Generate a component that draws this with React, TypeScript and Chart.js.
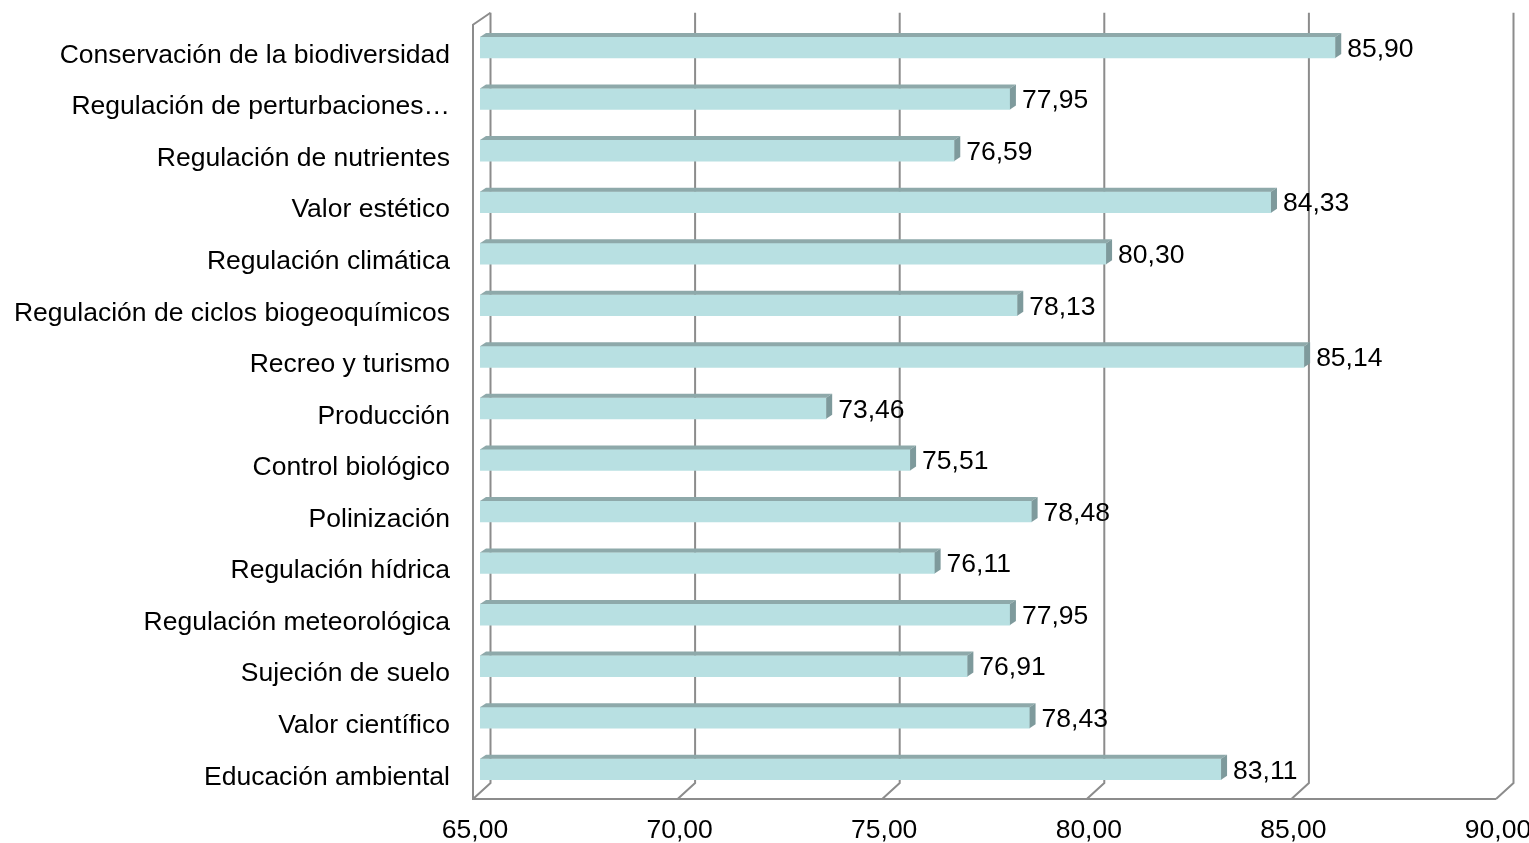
import React, { useEffect, useRef } from "react";
import { Chart, registerables } from "chart.js";

Chart.register(...registerables);

const categories = [
  "Conservación de la biodiversidad",
  "Regulación de perturbaciones…",
  "Regulación de nutrientes",
  "Valor estético",
  "Regulación climática",
  "Regulación de ciclos biogeoquímicos",
  "Recreo y turismo",
  "Producción",
  "Control biológico",
  "Polinización",
  "Regulación hídrica",
  "Regulación meteorológica",
  "Sujeción de suelo",
  "Valor científico",
  "Educación ambiental",
];

const values = [85.9, 77.95, 76.59, 84.33, 80.3, 78.13, 85.14, 73.46, 75.51, 78.48, 76.11, 77.95, 76.91, 78.43, 83.11];

const xTicks = [65, 70, 75, 80, 85, 90];

const fmt = (v: number) => v.toFixed(2).replace(".", ",");

const FONT = "'Liberation Sans', Arial, sans-serif";
const FONT_SIZE = 26.5;
const FRONT = "#b8e0e2";
const TOP = "#8ea9aa";
const SIDE = "#7e9a9c";
const GRID = "#8c8c8c";

const framePlugin = {
  id: "frame3d",
  beforeDatasetsDraw(chart: any) {
    const { ctx, chartArea } = chart;
    const xs = chart.scales.x;
    const backTop = chartArea.top - 9;
    const frontTop = chartArea.top + 3;
    const backBottom = chartArea.bottom - 12;
    const floorY = chartArea.bottom + 4;
    const bx = (v: number) => xs.getPixelForValue(v) + 10.5;
    const fx = (v: number) => xs.getPixelForValue(v) - 7;
    ctx.save();
    ctx.strokeStyle = GRID;
    ctx.lineWidth = 2;
    ctx.lineJoin = "miter";
    xTicks.forEach((v) => {
      ctx.beginPath();
      ctx.moveTo(bx(v), backTop);
      ctx.lineTo(bx(v), backBottom);
      ctx.lineTo(fx(v), floorY);
      ctx.stroke();
    });
    const lx = fx(xTicks[0]);
    ctx.beginPath();
    ctx.moveTo(bx(xTicks[0]), backTop);
    ctx.lineTo(lx, frontTop);
    ctx.lineTo(lx, floorY);
    ctx.lineTo(fx(xTicks[xTicks.length - 1]), floorY);
    ctx.stroke();
    ctx.restore();
  },
  afterDatasetsDraw(chart: any) {
    const { ctx, chartArea } = chart;
    const meta = chart.getDatasetMeta(0);
    const dx = 6;
    const dy = 4;
    ctx.save();
    meta.data.forEach((el: any, i: number) => {
      const { x, y, base, height } = el.getProps(["x", "y", "base", "height"], true);
      const left = Math.max(base, chartArea.left);
      const top = y - height / 2;
      const bottom = y + height / 2;
      ctx.fillStyle = TOP;
      ctx.beginPath();
      ctx.moveTo(left, top);
      ctx.lineTo(left + dx, top - dy);
      ctx.lineTo(x + dx, top - dy);
      ctx.lineTo(x, top);
      ctx.closePath();
      ctx.fill();
      ctx.fillStyle = SIDE;
      ctx.beginPath();
      ctx.moveTo(x, top);
      ctx.lineTo(x + dx, top - dy);
      ctx.lineTo(x + dx, bottom - dy);
      ctx.lineTo(x, bottom);
      ctx.closePath();
      ctx.fill();
      ctx.fillStyle = "#000";
      ctx.font = `${FONT_SIZE}px ${FONT}`;
      ctx.textAlign = "left";
      ctx.textBaseline = "middle";
      ctx.fillText(fmt(values[i]), x + 12, y + 2);
    });
    ctx.restore();
  },
};

export default function App() {
  const ref = useRef<HTMLCanvasElement | null>(null);

  useEffect(() => {
    if (!ref.current) return;
    const chart = new Chart(ref.current, {
      type: "bar",
      data: {
        labels: categories,
        datasets: [
          {
            data: values,
            backgroundColor: FRONT,
            borderWidth: 0,
            barThickness: 21,
          },
        ],
      },
      plugins: [framePlugin],
      options: {
        indexAxis: "y",
        responsive: false,
        animation: false,
        events: [],
        layout: { padding: { top: 21.7, right: 26, left: 0, bottom: 0 } },
        plugins: {
          legend: { display: false },
          tooltip: { enabled: false },
          title: { display: false },
        },
        scales: {
          x: {
            type: "linear",
            min: 65,
            max: 90,
            afterBuildTicks: (s: any) => {
              s.ticks = xTicks.map((v) => ({ value: v }));
            },
            afterFit: (s: any) => {
              s.height = 48;
              s.paddingLeft = 0;
              s.paddingRight = 0;
            },
            grid: { display: false, drawTicks: false },
            border: { display: false },
            ticks: {
              color: "#000",
              font: { family: FONT, size: FONT_SIZE },
              padding: 20,
              labelOffset: -5,
              maxRotation: 0,
              callback: (v: any) => fmt(Number(v)),
            },
          },
          y: {
            type: "category",
            afterFit: (s: any) => {
              s.width = 480;
              s.paddingTop = 0;
              s.paddingBottom = 0;
            },
            grid: { display: false, drawTicks: false },
            border: { display: false },
            ticks: {
              color: "#000",
              font: { family: FONT, size: FONT_SIZE },
              padding: 30,
              labelOffset: 8,
              autoSkip: false,
            },
          },
        },
      },
    });
    return () => chart.destroy();
  }, []);

  return (
    <div style={{ position: "fixed", left: 0, top: 0, width: 1529, height: 843, background: "#fff" }}>
      <canvas ref={ref} width={1529} height={843} style={{ display: "block" }} />
    </div>
  );
}
